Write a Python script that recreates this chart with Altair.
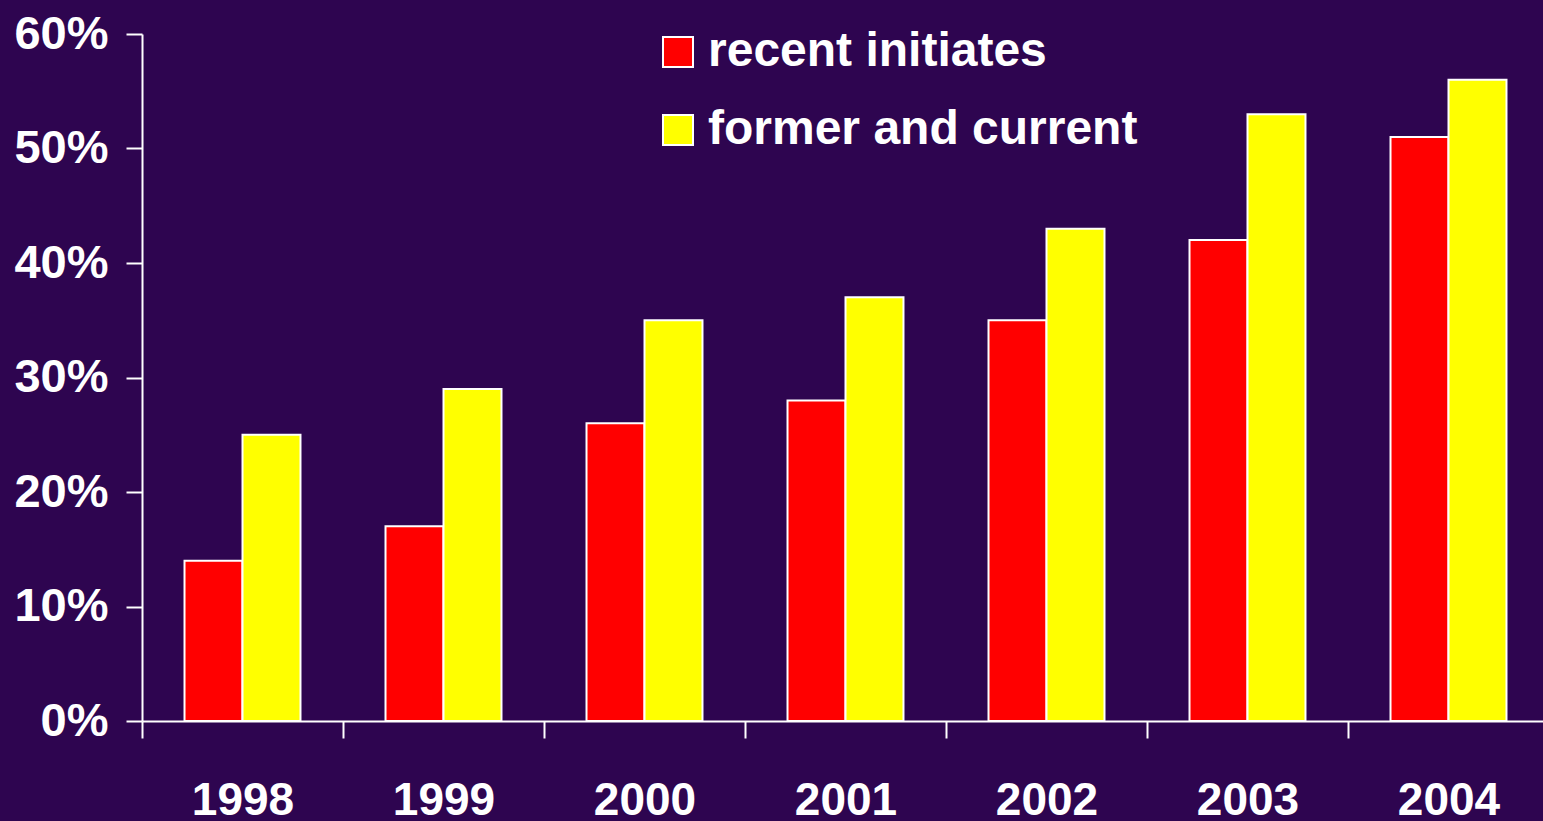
import altair as alt
import pandas as pd

years = ["1998", "1999", "2000", "2001", "2002", "2003", "2004"]
recent_initiates = [14, 17, 26, 28, 35, 42, 51]
former_and_current = [25, 29, 35, 37, 43, 53, 56]
series_names = ["recent initiates", "former and current"]
series_colors = ["#ff0000", "#ffff00"]

rows = []
for i, yr in enumerate(years):
    rows.append({"year": yr, "group": series_names[0], "pct": recent_initiates[i]})
    rows.append({"year": yr, "group": series_names[1], "pct": former_and_current[i]})
df = pd.DataFrame(rows)

FONT = "Liberation Sans"
BG = "#2e0550"

chart = (
    alt.Chart(df)
    .mark_bar(stroke="white", strokeWidth=2)
    .encode(
        x=alt.X(
            "year:N",
            sort=years,
            # the last year band runs slightly past the right edge of the canvas
            scale=alt.Scale(paddingInner=0, paddingOuter=0, range=[0, 1407]),
            axis=alt.Axis(
                title=None,
                labelAngle=0,
                tickBand="extent",
                labelAlign="center",
                labelFont=FONT,
                labelFontSize=46,
                labelFontWeight="bold",
                labelColor="white",
                labelPadding=40,
                tickColor="white",
                tickWidth=2,
                tickSize=17,
                domainColor="white",
                domainWidth=2,
                grid=False,
            ),
        ),
        xOffset=alt.XOffset(
            "group:N",
            sort=series_names,
            scale=alt.Scale(paddingInner=0, paddingOuter=0.733),
        ),
        y=alt.Y(
            "pct:Q",
            scale=alt.Scale(domain=[0, 60]),
            axis=alt.Axis(
                title=None,
                values=[0, 10, 20, 30, 40, 50, 60],
                labelExpr="datum.value + '%'",
                labelFont=FONT,
                labelFontSize=47,
                labelFontWeight="bold",
                labelColor="white",
                labelPadding=18,
                tickColor="white",
                tickWidth=2,
                tickSize=16,
                domainColor="white",
                domainWidth=2,
                grid=False,
            ),
        ),
        color=alt.Color(
            "group:N",
            sort=series_names,
            scale=alt.Scale(domain=series_names, range=series_colors),
            legend=alt.Legend(
                title=None,
                orient="none",
                legendX=512,
                legendY=-6,
                symbolType="square",
                symbolSize=900,
                symbolStrokeColor="white",
                symbolStrokeWidth=2,
                symbolOpacity=1,
                labelFont=FONT,
                labelFontSize=48,
                labelFontWeight="bold",
                labelColor="white",
                labelOffset=6,
                rowPadding=30,
                labelLimit=600,
            ),
        ),
    )
    .properties(
        width=1401,
        height=687,
        background=BG,
        padding={"left": 142, "top": 34, "right": 0, "bottom": 100},
        autosize=alt.AutoSizeParams(type="none"),
    )
    .configure_view(stroke=None)
)

chart.save("out.html", embed_options={"renderer": "svg", "actions": False})
